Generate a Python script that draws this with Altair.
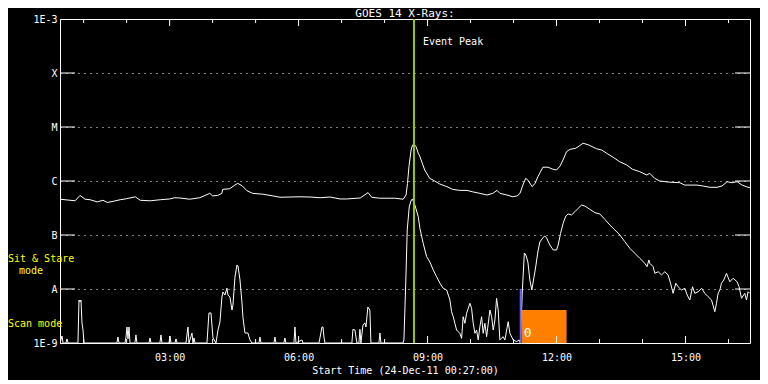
import pandas as pd
import altair as alt

DAY = pd.Timestamp("2011-12-24")
START_MIN, END_MIN = 27, 990          # 00:27 .. 16:30

# GOES 14 long channel (1-8 A): minutes after midnight, flux W/m^2
LONG_MIN = [27, 48, 55, 62, 69, 79, 87, 93, 101, 111, 120, 132, 139, 153, 167, 180, 187, 194, 208, 222,
            236, 240, 247, 253, 254, 264, 271, 275, 281, 288, 296, 310, 324, 334, 348, 362, 376, 390, 404, 418,
            427, 446, 457, 462, 473, 494, 506, 510, 512, 514, 517, 519, 521, 524, 527, 529, 536, 543, 550, 557,
            567, 575, 585, 595, 603, 613, 623, 631, 637, 641, 651, 659, 665, 669, 673, 677, 680, 686, 690, 694,
            697, 701, 708, 715, 720, 725, 729, 734, 739, 746, 750, 757, 764, 776, 783, 790, 799, 808, 818, 826,
            836, 846, 850, 857, 864, 878, 892, 899, 916, 924, 934, 944, 951, 958, 965, 972, 979, 987, 990]
LONG_FLUX = [4.6e-7, 4.3e-7, 5.4e-7, 4.6e-7, 4.5e-7, 4.1e-7, 4.4e-7, 4.0e-7, 4.2e-7, 4.5e-7,
             4.7e-7, 5.1e-7, 4.4e-7, 4.3e-7, 4.5e-7, 4.65e-7, 4.9e-7, 4.85e-7, 4.6e-7, 4.9e-7,
             5.9e-7, 5.3e-7, 5.4e-7, 5.9e-7, 7.0e-7, 7.2e-7, 8.4e-7, 9.05e-7, 8.2e-7, 6.6e-7,
             5.9e-7, 5.7e-7, 5.3e-7, 5.0e-7, 5.05e-7, 5.1e-7, 5.05e-7, 4.9e-7, 5.05e-7, 4.65e-7,
             4.65e-7, 4.85e-7, 6.1e-7, 5.0e-7, 4.8e-7, 4.8e-7, 4.6e-7, 5.5e-7, 9.0e-7, 1.84e-6,
             3.75e-6, 4.64e-6, 4.84e-6, 4.3e-6, 3.26e-6, 2.9e-6, 1.6e-6, 1.12e-6, 1.0e-6, 8.8e-7,
             7.85e-7, 7.0e-7, 6.7e-7, 6.7e-7, 6.3e-7, 5.9e-7, 5.5e-7, 5.9e-7, 6.7e-7, 5.9e-7,
             5.5e-7, 5.1e-7, 5.3e-7, 5.9e-7, 8.4e-7, 1.12e-6, 1.04e-6, 7.85e-7, 9.05e-7, 1.2e-6,
             1.43e-6, 1.8e-6, 1.8e-6, 1.65e-6, 1.6e-6, 1.9e-6, 2.45e-6, 3.5e-6, 3.87e-6, 4.0e-6,
             4.3e-6, 5.0e-6, 4.7e-6, 3.95e-6, 3.75e-6, 3.26e-6, 2.75e-6, 2.28e-6, 1.98e-6, 1.65e-6,
             1.49e-6, 1.29e-6, 1.39e-6, 1.12e-6, 1.0e-6, 9.5e-7, 9.3e-7, 8.4e-7, 8.4e-7, 8.1e-7,
             7.65e-7, 7.65e-7, 8.1e-7, 9.7e-7, 9.3e-7, 9.7e-7, 8.4e-7, 7.65e-7, 7.6e-7]

# GOES 14 short channel (0.5-4 A): (minutes after midnight, flux W/m^2)
SHORT_POINTS = [
    (27, 1e-9), (29.8, 1.35e-9), (31.2, 1e-9), (35.4, 1e-9), (36.8, 1.19e-9), (38.2, 1e-9),
    (52.1, 1e-9), (53.5, 6.25e-9), (54.9, 5.75e-9), (56.3, 6.25e-9), (57.7, 2.35e-9), (59.1, 1.74e-9),
    (60.5, 1e-9), (106.5, 1e-9), (107.9, 1.29e-9), (109.3, 1e-9), (117.7, 1e-9), (119.1, 1.29e-9),
    (120.5, 1.98e-9), (121.9, 1.19e-9), (123.3, 1.98e-9), (124.7, 1e-9), (131.6, 1e-9), (133, 1.41e-9),
    (134.4, 1e-9), (151.2, 1e-9), (152.6, 1.24e-9), (154, 1e-9), (166.5, 1e-9), (167.9, 1.41e-9),
    (169.3, 1e-9), (179.1, 1e-9), (180.5, 1.35e-9), (181.9, 1e-9), (187.5, 1e-9), (188.9, 1.19e-9),
    (190.3, 1e-9), (202.8, 1e-9), (205.6, 1.98e-9), (207, 1e-9), (211.2, 1.53e-9), (212.6, 1e-9),
    (214, 1.24e-9), (215.4, 1e-9), (232.1, 1e-9), (234.9, 3.6e-9), (237.7, 3.6e-9), (240.5, 1.24e-9),
    (244.7, 1e-9), (247.5, 1.74e-9), (250.2, 2.45e-9), (253, 7.1e-9), (254.4, 8.8e-9), (257.2, 7.74e-9),
    (260, 1.04e-8), (261.4, 7.74e-9), (264.2, 7.1e-9), (267, 4.08e-9), (268.4, 5.06e-9), (271.2, 1.67e-8),
    (274, 2.78e-8), (275.4, 2.67e-8), (278.2, 1.47e-8), (281, 5.5e-9), (282.3, 3.03e-9), (285.1, 1.53e-9),
    (289.3, 1.53e-9), (292.1, 1.14e-9), (294.9, 1e-9), (304.7, 1e-9), (306.1, 1.29e-9), (307.5, 1e-9),
    (325.6, 1e-9), (327, 1.29e-9), (328.4, 1e-9), (339.5, 1e-9), (340.9, 1.24e-9), (342.3, 1e-9),
    (353.5, 1e-9), (354.9, 1.98e-9), (356.3, 1e-9), (364.7, 1.14e-9), (366.1, 1e-9), (388.4, 1e-9),
    (389.8, 1.24e-9), (392.6, 1.98e-9), (394, 1.98e-9), (395.4, 1.29e-9), (396.8, 1e-9), (434.4, 1e-9),
    (435.8, 1.79e-9), (438.6, 1.74e-9), (441.4, 1e-9), (444.2, 1e-9), (445.6, 1.79e-9), (447, 1e-9),
    (449.8, 2.16e-9), (452.6, 2.35e-9), (454, 1.98e-9), (456.7, 4.64e-9), (459.5, 4.08e-9), (460.9, 1e-9),
    (472.1, 1e-9), (473.5, 1.53e-9), (474.9, 1e-9), (505.6, 1e-9), (507, 1.14e-9), (509.8, 1.67e-8),
    (511.6, 1.24e-7), (514.4, 3.3e-7), (516.8, 4.27e-7), (518.8, 4.64e-7), (522.3, 3.59e-7), (527, 2.18e-7),
    (529.3, 1.33e-7), (533.9, 7.02e-8), (538.7, 3.97e-8), (543.3, 3.16e-8), (547.9, 2.25e-8), (552.6, 1.69e-8),
    (557.2, 1.28e-8), (561.8, 1.03e-8), (566.6, 9.57e-9), (571.2, 6.25e-9), (573.5, 3.8e-9), (575.8, 3.07e-9),
    (578.1, 2.32e-9), (580.5, 1.74e-9), (585.1, 1.51e-9), (587.5, 1.22e-9), (589.7, 3.07e-9), (592.1, 2.32e-9),
    (594.5, 3.55e-9), (599.1, 5.43e-9), (601.4, 4.4e-9), (603.7, 2.32e-9), (606.1, 1.51e-9), (608.4, 1.74e-9),
    (610.7, 1.14e-9), (613, 2.0e-9), (615.4, 3.07e-9), (617.6, 1.51e-9), (620, 2.32e-9), (622.4, 1.31e-9),
    (627, 4.08e-9), (629.4, 3.07e-9), (631.6, 1.74e-9), (634, 2.67e-9), (636.3, 6.73e-9), (638.6, 4.08e-9),
    (640.9, 1.14e-9), (645.5, 1.31e-9), (647.9, 1.14e-9), (652.5, 2.48e-9), (654.9, 1.51e-9), (659.5, 1.14e-9),
    (664.2, 1.06e-9), (667.8, 1.14e-9), (669.5, 1e-9), (672.3, 9.57e-9), (675.1, 4.64e-8), (677.2, 4.26e-8),
    (680, 3.16e-8), (682.8, 1.47e-8), (685.5, 9.57e-9), (688.3, 1.6e-8), (691.1, 2.67e-8), (693.9, 4.84e-8),
    (696.7, 7.41e-8), (701.4, 9.06e-8), (703.7, 9.57e-8), (706.1, 8.8e-8), (710.7, 6.53e-8), (715.3, 5.28e-8),
    (720, 5.28e-8), (722.3, 6.53e-8), (725.6, 1.07e-7), (729.2, 1.65e-7), (733, 2.25e-7), (736.2, 2.45e-7),
    (740.9, 2.35e-7), (745.6, 2.7e-7), (750.2, 3.12e-7), (754.9, 3.59e-7), (759.5, 3.44e-7), (766.5, 2.99e-7),
    (773.5, 2.59e-7), (780.5, 2.45e-7), (787.4, 1.95e-7), (794.4, 1.53e-7), (801.4, 1.24e-7), (808.4, 1.0e-7),
    (815.3, 7.52e-8), (822.3, 5.67e-8), (829.3, 4.58e-8), (836.2, 3.7e-8), (843.2, 2.99e-8), (846.4, 2.59e-8),
    (848.8, 3.45e-8), (850.2, 2.99e-8), (854.8, 2.59e-8), (857.2, 1.95e-8), (861.8, 2.09e-8), (866.5, 1.82e-8),
    (871.1, 2.09e-8), (875.7, 1.82e-8), (879.1, 1.28e-8), (882.7, 8.3e-9), (886.5, 1.28e-8), (889.7, 1.1e-8),
    (894.4, 9.57e-9), (899.1, 1.03e-8), (902.3, 7.74e-9), (906, 6.25e-9), (909.8, 1.1e-8), (913, 8.3e-9),
    (917.6, 8.9e-9), (922.4, 1.03e-8), (927, 8.3e-9), (931.6, 7.2e-9), (936.3, 6.25e-9), (940.9, 3.8e-9),
    (943.2, 5.43e-9), (945.5, 8.3e-9), (947.9, 9.57e-9), (950.2, 1.28e-8), (953.4, 1.47e-8), (957.2, 1.95e-8),
    (961.8, 1.36e-8), (966.4, 1.58e-8), (972, 1.36e-8), (974.8, 1.1e-8), (978.1, 6.73e-9), (982.7, 8.3e-9),
    (985.1, 6.25e-9), (987.3, 8.9e-9), (989.6, 8.3e-9),
]

Y_DECADES = [1e-9, 1e-8, 1e-7, 1e-6, 1e-5, 1e-4, 1e-3]
Y_LABELS = ["1E-9", "A", "B", "C", "M", "X", "1E-3"]
X_LABEL_HOURS = [3, 6, 9, 12, 15]
HOUR_MARKS = list(range(1, 17))

TITLE = "GOES 14 X-Rays:"
EVENT_PEAK_MIN = 521
EVENT_LABEL = "Event Peak"
EVENT_LABEL_FLUX = 3.75e-4
MODE_SWITCH_MIN = 670
MODE_SWITCH_FLUX = [1e-8, 1e-9]
ORANGE_MIN = [671.5, 734]
ORANGE_FLUX = [1e-9, 4.1e-9]
ORANGE_TEXT = "0"
ORANGE_TEXT_FLUX = 1.5e-9
MODE_TEXTS = [("Sit & Stare", 3.6e-8, -52), ("mode", 2.15e-8, -41), ("Scan mode", 2.25e-9, -52)]

FONT = "DejaVu Sans Mono"
W, H = 690, 324
PAGE_CSS = "html,body{background:#000}"


def ts(m):
    return (DAY + pd.Timedelta(minutes=m)).strftime("%Y-%m-%dT%H:%M:%S")


def dt(m):
    h, mm = divmod(int(m), 60)
    return alt.DateTime(year=2011, month=12, date=24, hours=h, minutes=mm)


label_array = "[" + ",".join("'%s'" % s for s in Y_LABELS) + "]"

x_scale = alt.Scale(domain=[dt(START_MIN), dt(END_MIN)])
y_scale = alt.Scale(type="log", domain=[Y_DECADES[0], Y_DECADES[-1]])

x_axis = alt.Axis(values=[dt(h * 60) for h in X_LABEL_HOURS], format="%H:%M",
                  labelColor="white", labelFont=FONT, labelFontSize=10, labelPadding=9,
                  ticks=False, tickSize=0, domain=False, grid=False, labelFlush=False,
                  title="Start Time (24-Dec-11 00:27:00)", titleColor="white", titleFont=FONT,
                  titleFontSize=10, titleFontWeight="normal", titlePadding=3)
y_axis = alt.Axis(values=Y_DECADES, labelExpr=label_array + "[round(log(datum.value)/LN10)+9]",
                  labelColor="white", labelFont=FONT, labelFontSize=10, labelPadding=3,
                  ticks=False, tickSize=0, domain=False, grid=True, gridColor="white",
                  gridDash=[1, 5], gridOpacity=1, gridWidth=1, title=None)

X = alt.X("t:T", scale=x_scale, axis=x_axis)
Y = alt.Y("v:Q", scale=y_scale, axis=y_axis)

long_df = pd.DataFrame({"t": [ts(m) for m in LONG_MIN], "v": LONG_FLUX})
short_df = pd.DataFrame({"t": [ts(m) for m, _ in SHORT_POINTS], "v": [f for _, f in SHORT_POINTS]})

orange = alt.Chart(pd.DataFrame({"t": [ts(ORANGE_MIN[0])], "t2": [ts(ORANGE_MIN[1])],
                                 "v": [ORANGE_FLUX[0]], "v2": [ORANGE_FLUX[1]]})).mark_rect(
    color="#ff8000").encode(x=X, x2="t2:T", y=Y, y2="v2:Q")

long_line = alt.Chart(long_df).mark_line(color="white", strokeWidth=1, clip=True).encode(x=X, y=Y)
short_line = alt.Chart(short_df).mark_line(color="white", strokeWidth=1, clip=True).encode(x=X, y=Y)

blue = alt.Chart(pd.DataFrame({"t": [ts(MODE_SWITCH_MIN)], "v": [MODE_SWITCH_FLUX[0]],
                               "v2": [MODE_SWITCH_FLUX[1]]})).mark_rule(
    color="#6464ff", strokeWidth=2).encode(x=X, y=Y, y2="v2:Q")

peak = alt.Chart(pd.DataFrame({"t": [ts(EVENT_PEAK_MIN)]})).mark_rule(
    color="#99cc00", strokeWidth=2).encode(x=X)
peak_text = alt.Chart(pd.DataFrame({"t": [ts(EVENT_PEAK_MIN)], "v": [EVENT_LABEL_FLUX],
                                    "label": [EVENT_LABEL]})).mark_text(
    color="white", font=FONT, fontSize=10, align="left", baseline="middle", dx=9).encode(
    x=X, y=Y, text="label:N")

zero_text = alt.Chart(pd.DataFrame({"t": [ts(ORANGE_MIN[0])], "v": [ORANGE_TEXT_FLUX],
                                    "label": [ORANGE_TEXT]})).mark_text(
    color="white", font=FONT, fontSize=13, align="left", baseline="middle", dx=2).encode(
    x=X, y=Y, text="label:N")

title_text = alt.Chart(pd.DataFrame({"label": [TITLE]})).mark_text(
    color="white", font=FONT, fontSize=11, align="center", baseline="alphabetic").encode(
    x=alt.value(W / 2), y=alt.value(-2.5), text="label:N")

hour_major = [h for h in HOUR_MARKS if h % 3 == 0]
hour_minor = [h for h in HOUR_MARKS if h % 3 != 0]
maj_df = pd.DataFrame({"t": [ts(h * 60) for h in hour_major]})
min_df = pd.DataFrame({"t": [ts(h * 60) for h in hour_minor]})
tick_layers = [
    alt.Chart(maj_df).mark_rule(color="white").encode(x=X, y=alt.value(H), y2=alt.value(H - 7)),
    alt.Chart(min_df).mark_rule(color="white").encode(x=X, y=alt.value(H), y2=alt.value(H - 4)),
    alt.Chart(maj_df).mark_rule(color="white").encode(x=X, y=alt.value(0), y2=alt.value(7)),
    alt.Chart(min_df).mark_rule(color="white").encode(x=X, y=alt.value(0), y2=alt.value(4)),
]
dec_df = pd.DataFrame({"v": Y_DECADES[1:-1]})
tick_layers += [
    alt.Chart(dec_df).mark_rule(color="white").encode(y=Y, x=alt.value(0), x2=alt.value(15)),
    alt.Chart(dec_df).mark_rule(color="white").encode(y=Y, x=alt.value(W - 15), x2=alt.value(W)),
]

mode_layers = []
for txt, flux, xpos in MODE_TEXTS:
    mode_layers.append(
        alt.Chart(pd.DataFrame({"v": [flux], "label": [txt]})).mark_text(
            color="#ffff00", font=FONT, fontSize=10, align="left", baseline="middle").encode(
            y=Y, x=alt.value(xpos), text="label:N"))

chart = alt.layer(orange, long_line, short_line, blue, peak, peak_text, zero_text, title_text,
                  *tick_layers, *mode_layers).properties(
    width=W, height=H,
    background="black",
    padding={"left": 52, "top": 11, "right": 10, "bottom": 37},
    autosize=alt.AutoSizeParams(type="none"),
    usermeta={"embedOptions": {"defaultStyle": PAGE_CSS}},
).configure_view(stroke="white", strokeWidth=1)

chart.save("out.html", embed_options={"renderer": "svg", "actions": False})
